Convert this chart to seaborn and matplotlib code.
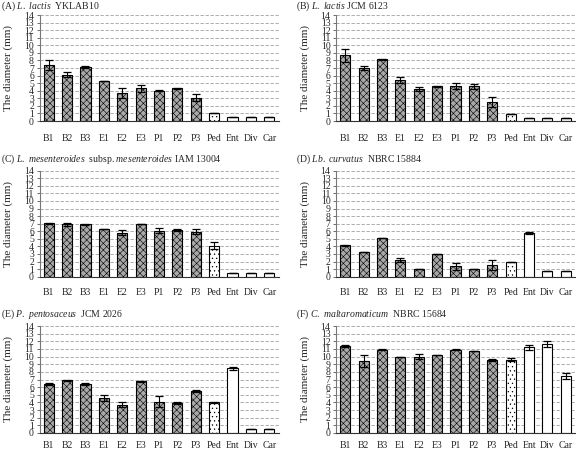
import matplotlib
matplotlib.use('Agg')
import matplotlib.pyplot as plt
import seaborn as sns
import pandas as pd
import numpy as np

categories = ['B1', 'B2', 'B3', 'E1', 'E2', 'E3', 'P1', 'P2', 'P3', 'Ped', 'Ent', 'Div', 'Car']

vals_A = [7.4, 6.1, 7.1, 5.3, 3.7, 4.3, 4.0, 4.3, 3.1, 1.1, 0.5, 0.5, 0.5]
errs_A = [0.65, 0.35, 0.1, 0.0, 0.6, 0.45, 0.1, 0.1, 0.45, 0.0, 0.0, 0.0, 0.0]
vals_B = [8.7, 7.0, 8.15, 5.4, 4.2, 4.6, 4.6, 4.6, 2.5, 0.9, 0.45, 0.45, 0.45]
errs_B = [0.85, 0.3, 0.1, 0.35, 0.3, 0.05, 0.4, 0.35, 0.7, 0.0, 0.0, 0.0, 0.0]
vals_C = [7.05, 6.9, 6.9, 6.25, 5.8, 6.9, 6.1, 6.2, 5.95, 4.1, 0.5, 0.5, 0.5]
errs_C = [0.1, 0.2, 0.05, 0.0, 0.35, 0.0, 0.3, 0.1, 0.35, 0.5, 0.0, 0.0, 0.0]
vals_D = [4.15, 3.3, 5.1, 2.2, 1.0, 3.05, 1.35, 1.0, 1.55, 2.0, 5.8, 0.8, 0.8]
errs_D = [0.1, 0.0, 0.05, 0.3, 0.0, 0.0, 0.45, 0.0, 0.6, 0.0, 0.1, 0.0, 0.0]
vals_E = [6.4, 6.9, 6.4, 4.55, 3.7, 6.75, 4.1, 3.95, 5.45, 4.0, 8.5, 0.5, 0.5]
errs_E = [0.15, 0.1, 0.1, 0.4, 0.3, 0.1, 0.7, 0.1, 0.15, 0.1, 0.2, 0.0, 0.0]
vals_F = [11.35, 9.4, 10.9, 9.95, 10.0, 10.2, 10.9, 10.75, 9.55, 9.6, 11.2, 11.65, 7.5]
errs_F = [0.1, 0.8, 0.1, 0.0, 0.3, 0.05, 0.1, 0.0, 0.1, 0.15, 0.35, 0.4, 0.4]

titles = [
    r'(A) $\mathit{L.}$ $\mathit{lactis}$  YKLAB10',
    r'(B) $\mathit{L.}$ $\mathit{lactis}$ JCM 6123',
    r'(C) $\mathit{L.}$ $\mathit{mesenteroides}$  subsp. $\mathit{mesenteroides}$ IAM 13004',
    r'(D) $\mathit{Lb.}$ $\mathit{curvatus}$  NBRC 15884',
    r'(E) $\mathit{P.}$ $\mathit{pentosaceus}$  JCM 2026',
    r'(F) $\mathit{C.}$ $\mathit{maltaromaticum}$  NBRC 15684',
]
panels = [(vals_A, errs_A), (vals_B, errs_B), (vals_C, errs_C),
          (vals_D, errs_D), (vals_E, errs_E), (vals_F, errs_F)]
yticks = list(range(0, 15))

sns.set_style('white')
plt.rcParams['font.family'] = ['Liberation Serif', 'DejaVu Serif']
plt.rcParams['mathtext.fontset'] = 'custom'
plt.rcParams['mathtext.rm'] = 'Liberation Serif'
plt.rcParams['mathtext.it'] = 'Liberation Serif:italic'
plt.rcParams['hatch.linewidth'] = 0.4

fig = plt.figure(figsize=(5.76, 4.5), dpi=100)
W, H = 576.0, 450.0
col_left = [39.5, 336.0]
col_w = 239.0
row_top = [15.0, 170.7, 326.0]
row_bot = [121.0, 276.7, 433.0]
title_y = [6.0, 159.0, 314.0]
title_x = [1.0, 296.0]
xpad = [9, 8, 5.5]

dark_face = '#a8a8a8'
palette = {c: (dark_face if i < 9 else 'white') for i, c in enumerate(categories)}

for k, ((vals, errs), title) in enumerate(zip(panels, titles)):
    r, c = divmod(k, 2)
    ax = fig.add_axes([col_left[c] / W, 1 - row_bot[r] / H, col_w / W,
                       (row_bot[r] - row_top[r]) / H])
    df = pd.DataFrame({'cat': categories, 'val': vals})
    sns.barplot(data=df, x='cat', y='val', hue='cat', palette=palette,
                legend=False, dodge=False, ax=ax, width=0.55,
                edgecolor='black', linewidth=0.8, errorbar=None)
    for i, p in enumerate(ax.patches):
        if i < 9:
            p.set_hatch('xxxxx')
        elif categories[i] == 'Ped':
            p.set_hatch('....')
    ax.errorbar(np.arange(len(categories)), vals, yerr=errs, fmt='none',
                ecolor='black', elinewidth=0.8, capsize=3, capthick=0.9, zorder=5)
    ax.set_ylim(0, 14)
    ax.set_xlim(-0.5, len(categories) - 0.5)
    ax.set_yticks(yticks)
    ax.set_yticklabels([str(t) for t in yticks], fontsize=7)
    ax.tick_params(axis='x', length=0, pad=xpad[r], labelsize=7)
    ax.tick_params(axis='y', length=2.5, width=0.6, pad=1.5, left=True, color='#555555')
    ax.yaxis.grid(True, linestyle=(0, (4, 2)), color='#a0a0a0', linewidth=0.6)
    ax.set_axisbelow(True)
    for s in ['top', 'right']:
        ax.spines[s].set_visible(False)
    ax.spines['left'].set_color('#777777')
    ax.spines['left'].set_linewidth(0.8)
    ax.spines['bottom'].set_color('#333333')
    ax.spines['bottom'].set_linewidth(0.8)
    ax.set_xlabel('')
    ax.set_ylabel('The diameter (mm)', fontsize=8)
    ax.yaxis.set_label_coords(-26.5 / col_w, 0.5)
    fig.text(title_x[c] / W, 1 - title_y[r] / H, title, fontsize=7,
             ha='left', va='center')

fig.savefig('out.png', dpi=100)
